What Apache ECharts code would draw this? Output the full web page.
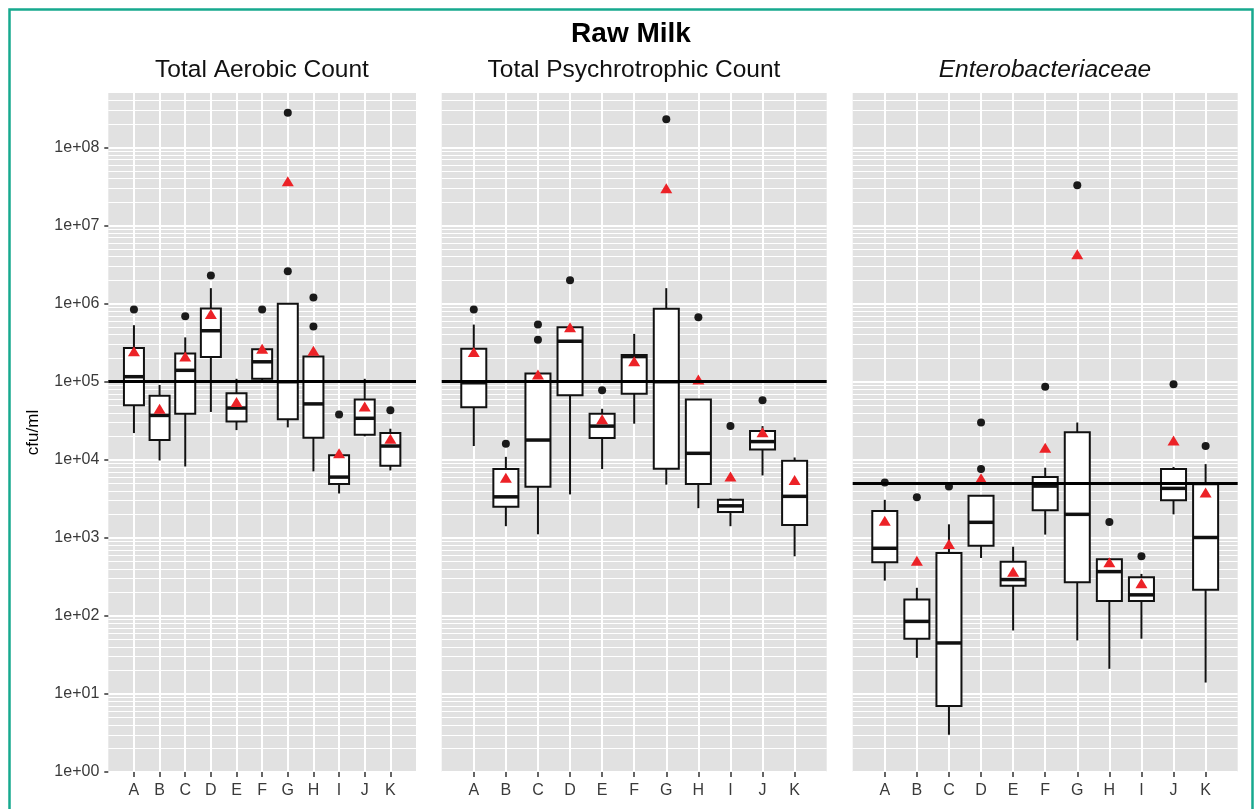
<!DOCTYPE html>
<html>
<head>
<meta charset="utf-8">
<script src="https://cdn.jsdelivr.net/npm/echarts@6/dist/echarts.min.js"></script>
<style>
html,body{margin:0;padding:0;background:#fff;}
#chart{width:1254px;height:809px;}
</style>
</head>
<body>
<div id="chart"></div>
<script>
// ---------------- data ----------------
const mainTitle = 'Raw Milk';
const categories = ['A','B','C','D','E','F','G','H','I','J','K'];
const panelTitles = ['Total Aerobic Count', 'Total Psychrotrophic Count', 'Enterobacteriaceae'];
const yAxisTitle = 'cfu/ml';
const yTickValues = [1, 10, 100, 1e3, 1e4, 1e5, 1e6, 1e7, 1e8];
const yTickLabels = ['1e+00','1e+01','1e+02','1e+03','1e+04','1e+05','1e+06','1e+07','1e+08'];
const limitValues = [1e5, 1e5, 5e3];

// box rows: [lower whisker, Q1, median, Q3, upper whisker]
const tacBox = [
  [2.2e4, 5.0e4, 1.16e5, 2.7e5, 5.3e5],
  [9.8e3, 1.79e4, 3.7e4, 6.6e4, 9.1e4],
  [8.2e3, 3.9e4, 1.4e5, 2.3e5, 3.7e5],
  [4.1e4, 2.08e5, 4.5e5, 8.7e5, 1.58e6],
  [2.4e4, 3.1e4, 4.6e4, 7.1e4, 1.09e5],
  [1.0e5, 1.09e5, 1.8e5, 2.6e5, 2.6e5],
  [2.6e4, 3.3e4, 1.0e5, 1.0e6, 1.0e6],
  [7.1e3, 1.92e4, 5.2e4, 2.1e5, 2.15e5],
  [3.7e3, 4.9e3, 6.0e3, 1.14e4, 1.14e4],
  [2.0e4, 2.1e4, 3.4e4, 5.9e4, 1.09e5],
  [7.3e3, 8.4e3, 1.5e4, 2.2e4, 2.5e4]
];
const tacOutliers = [[8.4e5], [], [6.9e5], [2.3e6], [], [8.4e5], [2.6e6, 2.8e8], [5.1e5, 1.2e6], [3.8e4], [], [4.3e4]];
const tacMeans = [2.45e5, 4.5e4, 2.1e5, 7.4e5, 5.5e4, 2.65e5, 3.7e7, 2.5e5, 1.21e4, 4.8e4, 1.86e4];

const tpcBox = [
  [1.5e4, 4.7e4, 9.7e4, 2.65e5, 5.4e5],
  [1.41e3, 2.5e3, 3.35e3, 7.6e3, 1.09e4],
  [1.11e3, 4.5e3, 1.79e4, 1.27e5, 1.27e5],
  [3.6e3, 6.7e4, 3.3e5, 5.0e5, 5.2e5],
  [7.6e3, 1.9e4, 2.7e4, 3.9e4, 4.5e4],
  [2.9e4, 7.0e4, 2.1e5, 2.2e5, 4.1e5],
  [4.8e3, 7.7e3, 1.0e5, 8.6e5, 1.58e6],
  [2.4e3, 4.9e3, 1.21e4, 5.9e4, 5.9e4],
  [1.41e3, 2.15e3, 2.57e3, 3.07e3, 3.2e3],
  [6.3e3, 1.35e4, 1.71e4, 2.33e4, 2.7e4],
  [580, 1.46e3, 3.4e3, 9.7e3, 1.07e4]
];
const tpcOutliers = [[8.4e5], [1.6e4], [3.46e5, 5.4e5], [2.0e6], [7.8e4], [], [2.3e8], [6.7e5], [2.7e4], [5.8e4], []];
const tpcMeans = [2.4e5, 5.9e3, 1.24e5, 5.0e5, 3.3e4, 1.83e5, 3.0e7, 1.07e5, 6.1e3, 2.26e4, 5.5e3];

const ebBox = [
  [283, 487, 735, 2.2e3, 3.07e3],
  [29, 51, 85, 162, 229],
  [3.0, 7.0, 45, 640, 1.49e3],
  [552, 793, 1.58e3, 3.45e3, 3.5e3],
  [65, 244, 292, 495, 770],
  [1.1e3, 2.26e3, 4.6e3, 6.0e3, 7.9e3],
  [48.5, 270, 2.0e3, 2.26e4, 3.0e4],
  [21, 155, 369, 531, 540],
  [51, 155, 186, 313, 345],
  [2.0e3, 3.04e3, 4.3e3, 7.6e3, 8.1e3],
  [14, 217, 1.01e3, 4.87e3, 8.8e3]
];
const ebOutliers = [[5.1e3], [3.3e3], [4.55e3], [7.6e3, 3.0e4], [], [8.6e4], [3.3e7], [1.6e3], [580], [9.3e4], [1.5e4]];
const ebMeans = [1.65e3, 510, 834, 5.8e3, 369, 1.43e4, 4.3e6, 487, 262, 1.77e4, 3.8e3];

// ---------------- chart ----------------
const FONT = '"Liberation Sans", Arial, Helvetica, sans-serif';
const panels = [
  {box: tacBox, out: tacOutliers, mean: tacMeans},
  {box: tpcBox, out: tpcOutliers, mean: tpcMeans},
  {box: ebBox, out: ebOutliers, mean: ebMeans}
];
const gridDefs = [
  {left: 108.3, width: 307.7},
  {left: 441.7, width: 385},
  {left: 852.7, width: 385}
];
const axisCats = [' '].concat(categories, ['  ']);
const isRealCat = (idx, val) => String(val).trim() !== '';

// minor grid break positions (2..9 x 10^k)
const minorBreaks = [];
for (let k = 0; k <= 8; k++) {
  for (let m = 2; m <= 9; m++) {
    const v = m * Math.pow(10, k);
    if (v < 5e8) minorBreaks.push(v);
  }
}

function renderBox(params, api) {
  const xi = api.value(0);
  const lo = api.coord([xi, api.value(1)]);
  const q1 = api.coord([xi, api.value(2)]);
  const md = api.coord([xi, api.value(3)]);
  const q3 = api.coord([xi, api.value(4)]);
  const hi = api.coord([xi, api.value(5)]);
  const bw = api.size([1, 0])[0] * 0.78;
  const cx = lo[0];
  const ls = {stroke: '#111', lineWidth: 2};
  return {
    type: 'group',
    children: [
      {type: 'line', shape: {x1: cx, y1: hi[1], x2: cx, y2: q3[1]}, style: ls},
      {type: 'line', shape: {x1: cx, y1: q1[1], x2: cx, y2: lo[1]}, style: ls},
      {type: 'rect', shape: {x: cx - bw / 2, y: q3[1], width: bw, height: q1[1] - q3[1]},
        style: {fill: '#fff', stroke: '#111', lineWidth: 2}},
      {type: 'line', shape: {x1: cx - bw / 2, y1: md[1], x2: cx + bw / 2, y2: md[1]},
        style: {stroke: '#111', lineWidth: 3.5}}
    ]
  };
}

const grids = [], xAxes = [], yAxes = [], series = [];
panels.forEach((p, i) => {
  grids.push({left: gridDefs[i].left, width: gridDefs[i].width, top: 93, height: 679,
    show: true, backgroundColor: '#e1e1e1', borderWidth: 0});
  xAxes.push({
    type: 'category', gridIndex: i, data: axisCats, boundaryGap: false,
    axisLine: {show: false},
    axisTick: {show: true, length: 5, interval: isRealCat, lineStyle: {color: '#333', width: 1.5}},
    axisLabel: {interval: isRealCat, fontSize: 16, color: '#3a3a3a', margin: 11, fontFamily: FONT},
    splitLine: {show: true, interval: isRealCat, lineStyle: {color: '#fff', width: 2}}
  });
  yAxes.push({
    type: 'log', gridIndex: i, logBase: 10, min: 1, max: 5e8,
    axisLine: {show: false},
    axisTick: {show: i === 0, length: 4, customValues: yTickValues, lineStyle: {color: '#333', width: 1.5}},
    axisLabel: {show: i === 0, customValues: yTickValues, fontSize: 16, color: '#3a3a3a', margin: 9,
      fontFamily: FONT, formatter: v => yTickLabels[Math.round(Math.log10(v))]},
    splitLine: {show: true, lineStyle: {color: '#fff', width: 2}},
    name: i === 0 ? yAxisTitle : '', nameLocation: 'middle', nameGap: 66,
    nameTextStyle: {fontSize: 17, color: '#000', fontFamily: FONT}
  });
  series.push({
    type: 'custom', xAxisIndex: i, yAxisIndex: i, z: 2,
    renderItem: renderBox,
    encode: {x: 0, y: [1, 2, 3, 4, 5]},
    data: categories.map((c, j) => [c].concat(p.box[j]))
  });
  const outData = [];
  categories.forEach((c, j) => p.out[j].forEach(v => outData.push([c, v])));
  series.push({
    type: 'scatter', xAxisIndex: i, yAxisIndex: i, z: 3,
    symbol: 'circle', symbolSize: 8,
    itemStyle: {color: '#1a1a1a', opacity: 1},
    data: outData,
    markLine: {
      silent: true, z: 1, symbol: ['none', 'none'], label: {show: false},
      lineStyle: {color: '#fff', width: 1, type: 'solid', opacity: 1},
      emphasis: {disabled: true},
      data: minorBreaks.map(v => ({yAxis: v}))
    }
  });
  series.push({
    type: 'scatter', xAxisIndex: i, yAxisIndex: i, z: 4,
    symbol: 'triangle', symbolSize: [12, 10],
    itemStyle: {color: '#ec2227', opacity: 1},
    data: categories.map((c, j) => [c, p.mean[j]]),
    markLine: {
      silent: true, z: 6, symbol: ['none', 'none'], label: {show: false},
      lineStyle: {color: '#000', width: 3.2, type: 'solid', opacity: 1},
      emphasis: {disabled: true},
      data: [{yAxis: limitValues[i]}]
    }
  });
});

const titleCenters = [262, 634, 1045];
const graphics = [
  {type: 'rect', silent: true, z: 100,
    shape: {x: 9.5, y: 9.5, width: 1243, height: 840},
    style: {fill: 'none', stroke: '#17a98f', lineWidth: 2.5}},
  {type: 'text', x: 631, y: 34, silent: true,
    style: {text: mainTitle, fill: '#000', font: 'bold 28px ' + FONT, align: 'center', verticalAlign: 'middle',
      textAlign: 'center', textVerticalAlign: 'middle'}}
];
panelTitles.forEach((t, i) => {
  graphics.push({type: 'text', x: titleCenters[i], y: 70, silent: true,
    style: {text: t, fill: '#111', font: (i === 2 ? 'italic ' : '') + '24.5px ' + FONT,
      align: 'center', verticalAlign: 'middle', textAlign: 'center', textVerticalAlign: 'middle'}});
});

const chart = echarts.init(document.getElementById('chart'), null, {renderer: 'canvas'});
chart.setOption({
  animation: false,
  backgroundColor: '#fff',
  grid: grids,
  xAxis: xAxes,
  yAxis: yAxes,
  series: series,
  graphic: graphics
});
</script>
</body>
</html>
